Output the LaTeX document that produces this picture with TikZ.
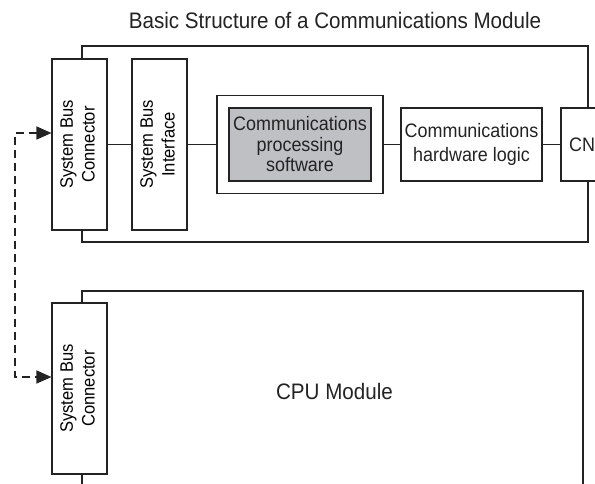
\documentclass[tikz,border=0pt]{standalone}
\usepackage{fontspec}
\usepackage{graphicx}
\setmainfont{Liberation Sans}[FakeStretch=0.92]
\usetikzlibrary{arrows.meta}

\definecolor{swgray}{RGB}{190,192,196}
\definecolor{inkline}{RGB}{35,35,35}

% vertical two-line label used inside the bus boxes
\newcommand{\vlabel}[2]{\rotatebox{90}{\fontsize{18}{21.7}\selectfont
  \begin{tabular}{@{}c@{}}#1\\#2\end{tabular}}}

\begin{document}
\begin{tikzpicture}[x=1pt,y=-1pt,
  frame/.style={draw=inkline, line width=1.1pt},
  box/.style={draw=inkline, fill=white, line width=1.1pt, inner sep=0pt,
    align=center},
  bustall/.style={box, minimum width=55pt, minimum height=171pt},
  label/.style={font=\fontsize{19.5}{20.5}\selectfont, text=inkline},
  biglabel/.style={font=\fontsize{22.4}{26}\selectfont, text=inkline},
  link/.style={draw=inkline, line width=1.1pt},
  busarrow/.style={draw=inkline, line width=1.4pt, dash pattern=on 8pt off 5pt,
    {Triangle[length=15pt,width=13pt]}-{Triangle[length=15pt,width=13pt]}}
]
\useasboundingbox (0,0) rectangle (595,483);
\clip (0,0) rectangle (595,483);

% title
\node[biglabel, anchor=base] (title) at (335,28.5)
  {Basic Structure of a Communications Module};

% communications module frame
\draw[frame] (82,46) rectangle (588,242);

% CPU module frame (runs past the lower edge)
\draw[frame] (82,520) -- (82,291) -- (583,291) -- (583,520);

% blocks of the communications module
\node[bustall] (conA) at (79.5,144.5) {\vlabel{System Bus}{Connector}};
\node[bustall] (ifc)  at (159.5,144.5) {\vlabel{System Bus}{Interface}};
\node[box, minimum width=166pt, minimum height=98pt] (swout) at (300,144.5) {};
\node[box, fill=swgray, minimum width=142pt, minimum height=73pt, label]
  (swin) at (300,144.5) {Communications\\processing\\software};
\node[box, minimum width=141pt, minimum height=73pt,
  font=\fontsize{19.5}{24}\selectfont, text=inkline]
  (hw) at (471.5,144.5) {Communications\\hardware logic};
\node[box, minimum width=79pt, minimum height=73pt] (cn) at (600.5,144.5) {};
\node[label, anchor=west, inner sep=0pt] (cntext) at (569,144.5) {CN};

% internal links
\draw[link] (conA.east) -- (ifc.west);
\draw[link] (ifc.east) -- (swout.west);
\draw[link] (swout.east) -- (hw.west);
\draw[link] (hw.east) -- (cn.west);

% CPU module
\node[bustall] (conB) at (79.5,388.5) {\vlabel{System Bus}{Connector}};
\node[biglabel] (cpu) at (334.5,391) {CPU Module};

% system bus between the two connectors
\coordinate (bendA) at (15,133);
\coordinate (bendB) at (15,377);
\draw[busarrow] (conA.west |- bendA) -- (bendA) -- (bendB) -- (conB.west |- bendB);
\end{tikzpicture}
\end{document}
